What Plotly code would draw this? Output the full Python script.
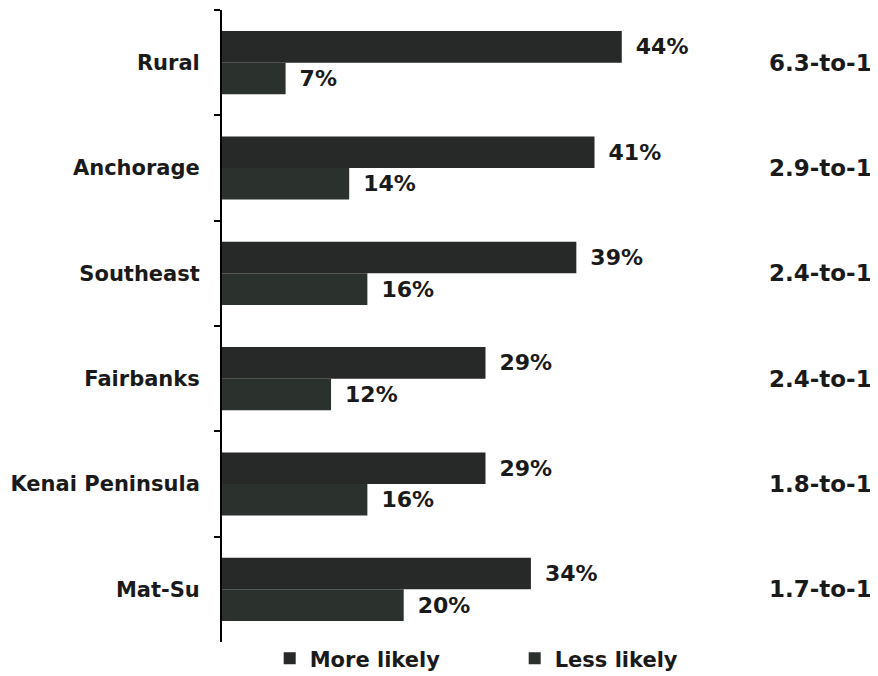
import plotly.graph_objects as go

regions = ["Rural", "Anchorage", "Southeast", "Fairbanks", "Kenai Peninsula", "Mat-Su"]
more_likely = [44, 41, 39, 29, 29, 34]
less_likely = [7, 14, 16, 12, 16, 20]
ratios = ["6.3-to-1", "2.9-to-1", "2.4-to-1", "2.4-to-1", "1.8-to-1", "1.7-to-1"]

FONT = "DejaVu Sans"
TXT = dict(family=FONT, size=22, color="#1a1a1a", weight="bold")

fig = go.Figure()
fig.add_trace(go.Bar(
    y=regions, x=more_likely, name="More likely", orientation="h",
    marker=dict(color="#262927", line=dict(width=0)),
    texttemplate="\u2002%{x}%", textposition="outside", textfont=TXT,
    cliponaxis=False,
))
fig.add_trace(go.Bar(
    y=regions, x=less_likely, name="Less likely", orientation="h",
    marker=dict(color="#2b312d", line=dict(width=0)),
    texttemplate="\u2002%{x}%", textposition="outside", textfont=TXT,
    cliponaxis=False,
))

# ratio column on the right
for reg, r in zip(regions, ratios):
    fig.add_annotation(x=65.9, y=reg, text=r, showarrow=False, xanchor="center",
                       yshift=0, font=dict(family=FONT, size=23, color="#1a1a1a", weight="bold"))

# page body has an 8px margin, so the figure is 8px smaller than the window
fig.update_layout(
    width=870, height=668,
    margin=dict(l=214, r=20, t=2, b=34, autoexpand=False),
    plot_bgcolor="white", paper_bgcolor="white",
    barmode="group", bargap=0.4, bargroupgap=0,
    font=dict(family=FONT, color="#1a1a1a"),
    legend=dict(
        orientation="h", x=0.075, y=0.006, xanchor="left", yanchor="top",
        bgcolor="rgba(0,0,0,0)",
        font=dict(family=FONT, size=21, color="#1a1a1a", weight="bold"),
        entrywidth=200, itemwidth=30, traceorder="normal",
    ),
)
fig.update_xaxes(range=[0, 70], visible=False)
fig.update_yaxes(
    categoryorder="array", categoryarray=regions, autorange="reversed",
    showline=True, linecolor="black", linewidth=2, automargin=False,
    ticks="outside", ticklen=6, tickcolor="black", tickwidth=2, tickson="boundaries",
    tickfont=dict(family=FONT, size=21, color="#1a1a1a", weight="bold"),
    ticklabelstandoff=16, showgrid=False,
)

fig.write_html("out.html")
